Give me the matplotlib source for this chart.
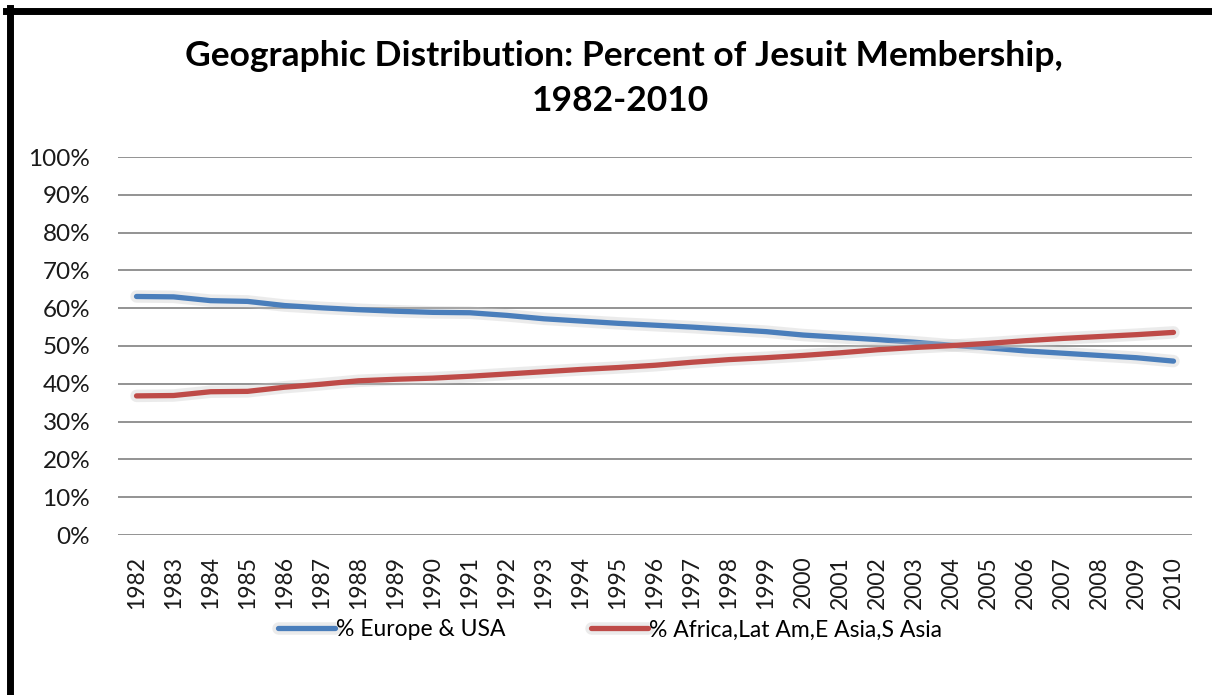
import matplotlib.pyplot as plt
import matplotlib.patheffects as pe
from matplotlib.lines import Line2D
from matplotlib.ticker import PercentFormatter

years = [str(y) for y in range(1982, 2011)]
europe_usa = [63.1, 63.0, 62.0, 61.8, 60.7, 60.1, 59.6, 59.2, 58.9, 58.8,
              58.1, 57.2, 56.6, 56.0, 55.5, 55.0, 54.4, 53.8, 52.9, 52.3,
              51.7, 51.0, 50.2, 49.5, 48.7, 48.1, 47.5, 46.9, 46.0]
africa_asia = [36.8, 36.9, 37.9, 38.0, 39.1, 39.9, 40.8, 41.2, 41.5, 42.0,
               42.6, 43.2, 43.8, 44.3, 44.9, 45.7, 46.4, 46.9, 47.5, 48.2,
               49.0, 49.6, 50.1, 50.7, 51.4, 52.0, 52.5, 53.0, 53.6]

plt.rcParams['font.family'] = ['Lato', 'DejaVu Sans']

W, H = 1212, 695
fig = plt.figure(figsize=(W / 100, H / 100), dpi=100)
ax = fig.add_axes([118 / W, 1 - 535 / H, (1192 - 118) / W, (535 - 157) / H])

glow = [pe.Stroke(linewidth=9, foreground='#c8c8c8', alpha=0.35), pe.Normal()]
x = range(len(years))
ax.plot(x, europe_usa, color='#4a7ebb', lw=3.8, solid_capstyle='round',
        label='% Europe & USA', path_effects=glow)
ax.plot(x, africa_asia, color='#be4b48', lw=3.8, solid_capstyle='round',
        label='% Africa,Lat Am,E Asia,S Asia', path_effects=glow)

ax.set_xlim(-0.5, len(years) - 0.5)
ax.set_ylim(0, 100)
ax.set_yticks(range(0, 101, 10))
ax.yaxis.set_major_formatter(PercentFormatter(decimals=0))
ax.set_xticks(list(x))
ax.set_xticklabels(years, rotation=90)
ax.tick_params(axis='both', length=0, colors='#1a1a1a')
ax.tick_params(axis='y', pad=20, labelsize=17.5)
ax.tick_params(axis='x', pad=15, labelsize=16.5)
ax.grid(axis='y', color='#8a8a8a', lw=1.3)
ax.set_axisbelow(True)
for s in ax.spines.values():
    s.set_visible(False)

fig.text(624 / W, 1 - 56 / H, 'Geographic Distribution: Percent of Jesuit Membership,',
         ha='center', va='center', fontsize=25.5, fontweight='bold')
fig.text(620 / W, 1 - 101 / H, '1982-2010', ha='center', va='center',
         fontsize=25.5, fontweight='bold')

fig.legend(loc='center', bbox_to_anchor=(610 / W, 1 - 630 / H), ncol=2,
           frameon=False, fontsize=16.5, handlelength=2.5, handletextpad=0.05,
           columnspacing=3.7)

# black frame on the left and top
fig.add_artist(Line2D([9.5 / W, 9.5 / W], [0, 1 - 8 / H], color='black', lw=5))
fig.add_artist(Line2D([6 / W, 1], [1 - 11 / H, 1 - 11 / H], color='black', lw=5))

fig.savefig('out.png', dpi=100)
